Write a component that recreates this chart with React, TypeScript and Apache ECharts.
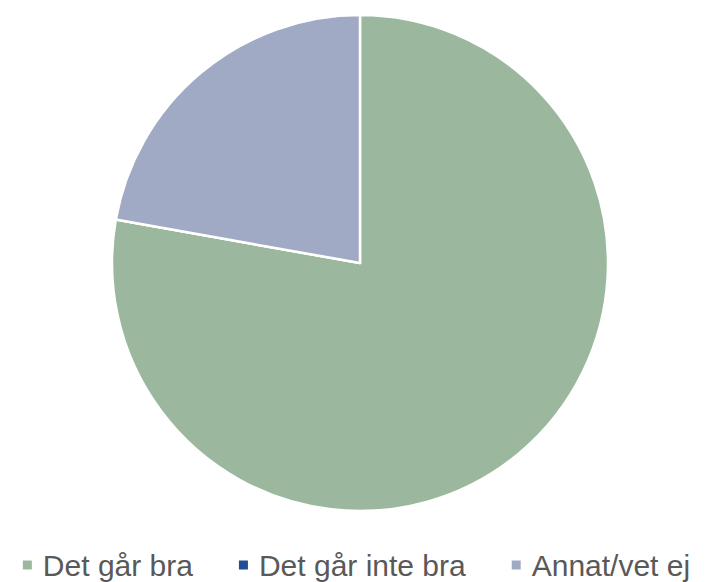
import React, { useEffect, useRef } from "react";
import * as echarts from "echarts";

const categories = ["Det går bra", "Det går inte bra", "Annat/vet ej"];
const values = [77.8, 0, 22.2];
const colors = ["#9BB89F", "#1F4E96", "#A1AAC4"];

export default function App() {
  const ref = useRef<HTMLDivElement>(null);
  useEffect(() => {
    if (!ref.current) return;
    const chart = echarts.init(ref.current, undefined, { renderer: "svg" });
    chart.setOption({
      animation: false,
      backgroundColor: "#ffffff",
      color: colors,
      legend: {
        bottom: 2,
        left: "center",
        padding: 0,
        itemWidth: 11,
        itemHeight: 11,
        itemGap: 44,
        icon: "rect",
        textStyle: {
          fontSize: 30,
          lineHeight: 30,
          color: "#595959",
          fontFamily: "Liberation Sans, Arial, sans-serif",
          padding: [0, 0, 0, 5],
        },
        data: categories,
      },
      series: [
        {
          type: "pie",
          center: [360, 263],
          radius: [0, 248],
          startAngle: 90,
          clockwise: true,
          label: { show: false },
          labelLine: { show: false },
          emphasis: { disabled: true },
          itemStyle: { borderColor: "#ffffff", borderWidth: 2.5 },
          data: categories.map((name, i) => ({ name, value: values[i] })),
        },
      ],
    });
    return () => chart.dispose();
  }, []);
  return (
    <div
      ref={ref}
      style={{ position: "absolute", left: 0, top: 0, width: 711, height: 582 }}
    />
  );
}
